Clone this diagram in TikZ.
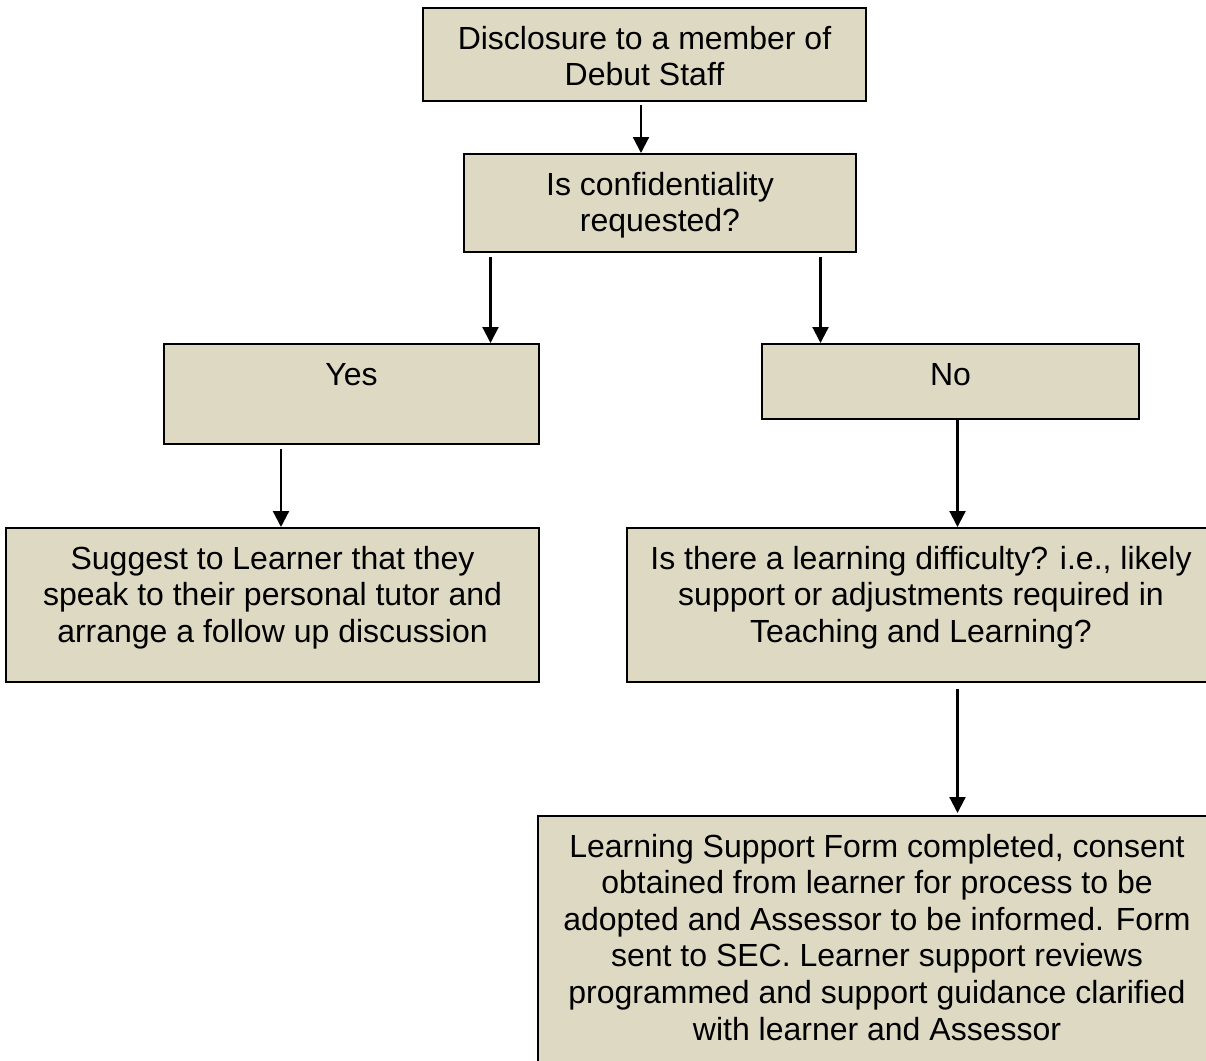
\documentclass[tikz,border=0pt]{standalone}
\usepackage{fontspec}
\setmainfont{Liberation Sans}
\usetikzlibrary{arrows.meta}
\definecolor{tanfill}{RGB}{221,217,195}
\newcommand{\boxtxt}[3]{\parbox[t][#2][t]{#1}{\centering\rule{0pt}{41pt}#3\par}}
\begin{document}
\begin{tikzpicture}[x=1pt,y=-1pt,
  box/.style={draw=black, line width=2.4pt, fill=tanfill, rectangle, inner sep=0pt, outer sep=0pt, anchor=north west, font=\fontsize{32pt}{36.6pt}\selectfont},
  arr/.style={-{Triangle[length=16pt,width=16pt]}, line width=2.2pt, black}]
\useasboundingbox (0,0) rectangle (1206,1060);
\fill[white] (0,0) rectangle (1206,1060);
\begin{scope}
\clip (0,0) rectangle (1206,1060);
\node[box] (n1) at (423,8) {\boxtxt{443pt}{93pt}{Disclosure to a member of\\Debut Staff}};
\node[box] (n2) at (464,154) {\boxtxt{392pt}{98pt}{Is confidentiality\\requested?}};
\node[box] (n3) at (164,344) {\boxtxt{375pt}{100pt}{Yes}};
\node[box] (n4) at (762,344) {\boxtxt{377pt}{75pt}{No}};
\node[box] (n5) at (6,528) {\boxtxt{533pt}{154pt}{Suggest to Learner that they\\speak to their personal tutor and\\arrange a follow up discussion}};
\node[box] (n6) at (627,528) {\boxtxt{588pt}{154pt}{Is there a learning difficulty? i.e., likely\\support or adjustments required in\\Teaching and Learning?}};
\node[box] (n7) at (538,816) {\boxtxt{678pt}{260pt}{Learning Support Form completed, consent\\obtained from learner for process to be\\adopted and Assessor to be informed. Form\\sent to SEC. Learner support reviews\\programmed and support guidance clarified\\with learner and Assessor}};
\end{scope}
\draw[arr] ([xshift=-3.5pt,yshift=-4pt]n1.south) -- ([xshift=-19pt,yshift=1pt]n2.north);
\draw[arr] ([xshift=-169.5pt,yshift=-5pt]n2.south) -- ([xshift=139pt,yshift=1pt]n3.north);
\draw[arr] ([xshift=160.5pt,yshift=-5pt]n2.south) -- ([xshift=-130pt,yshift=1pt]n4.north);
\draw[arr] ([xshift=-70.5pt,yshift=-5pt]n3.south) -- ([xshift=8.5pt,yshift=1pt]n5.north);
\draw[arr] ([xshift=7pt]n4.south) -- ([xshift=36.5pt,yshift=1pt]n6.north);
\draw[arr] ([xshift=36.5pt,yshift=-7pt]n6.south) -- ([xshift=80.5pt,yshift=3pt]n7.north);
\end{tikzpicture}
\end{document}
